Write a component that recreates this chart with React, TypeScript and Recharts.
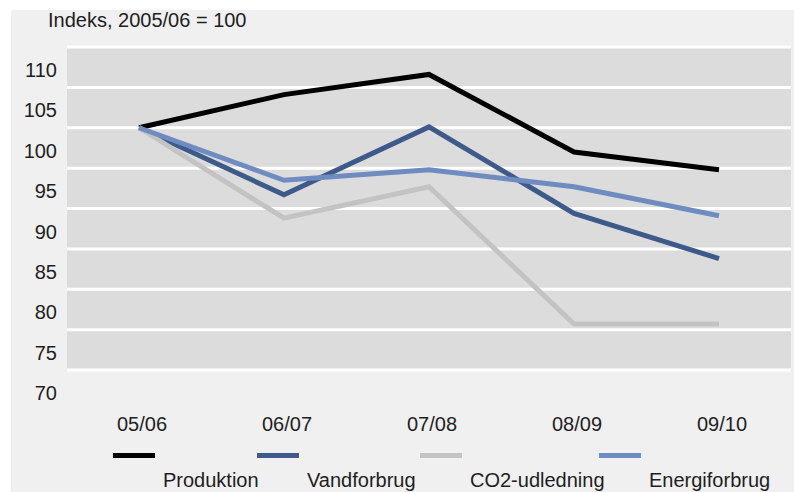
import { CartesianGrid, Line, LineChart, XAxis, YAxis } from "recharts";

// Index series, 2005/06 = 100
const years = ["05/06", "06/07", "07/08", "08/09", "09/10"];
const produktion = [100, 104.1, 106.6, 97.0, 94.8];
const vandforbrug = [100, 91.7, 100.1, 89.4, 83.8];
const co2Udledning = [100, 88.8, 92.7, 75.7, 75.7];
const energiforbrug = [100, 93.5, 94.8, 92.7, 89.1];
const yTicks = [70, 75, 80, 85, 90, 95, 100, 105, 110];

const seriesDefs = [
	{ key: "produktion", name: "Produktion", color: "#000000", values: produktion },
	{ key: "vandforbrug", name: "Vandforbrug", color: "#3e5a8b", values: vandforbrug },
	{ key: "co2", name: "CO2-udledning", color: "#c3c3c3", values: co2Udledning },
	{ key: "energi", name: "Energiforbrug", color: "#6f8cc0", values: energiforbrug },
];

// legend item anchors (sample line left edge), as laid out in the source
const legendLeft = [113, 257, 420, 599];

const data = years.map((y, i) => {
	const row: Record<string, string | number> = { year: y };
	seriesDefs.forEach((s) => {
		row[s.key] = s.values[i];
	});
	return row;
});

const FONT = '"Liberation Sans", Arial, sans-serif';
const TEXT = "#1e1e1e";

// Source prints the y labels about half a band below their gridlines
function YTick(props: any) {
	const { x, y, payload } = props;
	return (
		<text
			x={x}
			y={y + 23}
			textAnchor="end"
			dominantBaseline="central"
			fontFamily={FONT}
			fontSize={20}
			fill={TEXT}
		>
			{payload.value}
		</text>
	);
}

function XTick(props: any) {
	const { x, y, payload } = props;
	return (
		<text
			x={x + 3}
			y={y + 46}
			textAnchor="middle"
			dominantBaseline="central"
			fontFamily={FONT}
			fontSize={20}
			fill={TEXT}
		>
			{payload.value}
		</text>
	);
}

export default function App() {
	return (
		<div
			style={{
				position: "fixed",
				left: 0,
				top: 0,
				width: 794,
				height: 492,
				background: "#ffffff",
				fontFamily: FONT,
			}}
		>
			<div
				style={{
					position: "absolute",
					left: 11,
					top: 10,
					width: 783,
					height: 482,
					background: "#f0f0f0",
				}}
			/>
			<div
				style={{
					position: "absolute",
					left: 48,
					top: 8,
					fontSize: 20,
					lineHeight: "24px",
					color: TEXT,
				}}
			>
				Indeks, 2005/06 = 100
			</div>
			<div style={{ position: "absolute", left: 0, top: 0 }}>
				<LineChart
					width={794}
					height={492}
					data={data}
					margin={{ top: 47, right: 3, bottom: 62, left: 0 }}
				>
					<CartesianGrid
						vertical={false}
						fill="#dcdcdc"
						fillOpacity={1}
						stroke="#ffffff"
						strokeWidth={3}
					/>
					<XAxis
						dataKey="year"
						axisLine={false}
						tickLine={false}
						padding={{ left: 72, right: 72 }}
						height={60}
						tick={<XTick />}
						interval={0}
					/>
					<YAxis
						domain={[70, 110]}
						ticks={yTicks}
						width={67}
						axisLine={false}
						tickLine={false}
						tickMargin={4}
						tick={<YTick />}
						interval={0}
					/>
					{seriesDefs.map((s) => (
						<Line
							key={s.key}
							dataKey={s.key}
							name={s.name}
							type="linear"
							stroke={s.color}
							strokeWidth={5}
							dot={false}
							activeDot={false}
							isAnimationActive={false}
						/>
					))}
				</LineChart>
			</div>
			{seriesDefs.map((s, i) => (
				<div key={s.key}>
					<div
						style={{
							position: "absolute",
							left: legendLeft[i],
							top: 453,
							width: 42,
							height: 5,
							background: s.color,
						}}
					/>
					<div
						style={{
							position: "absolute",
							left: legendLeft[i] + 50,
							top: 468,
							fontSize: 20,
							lineHeight: "24px",
							color: TEXT,
							whiteSpace: "nowrap",
						}}
					>
						{s.name}
					</div>
				</div>
			))}
		</div>
	);
}
